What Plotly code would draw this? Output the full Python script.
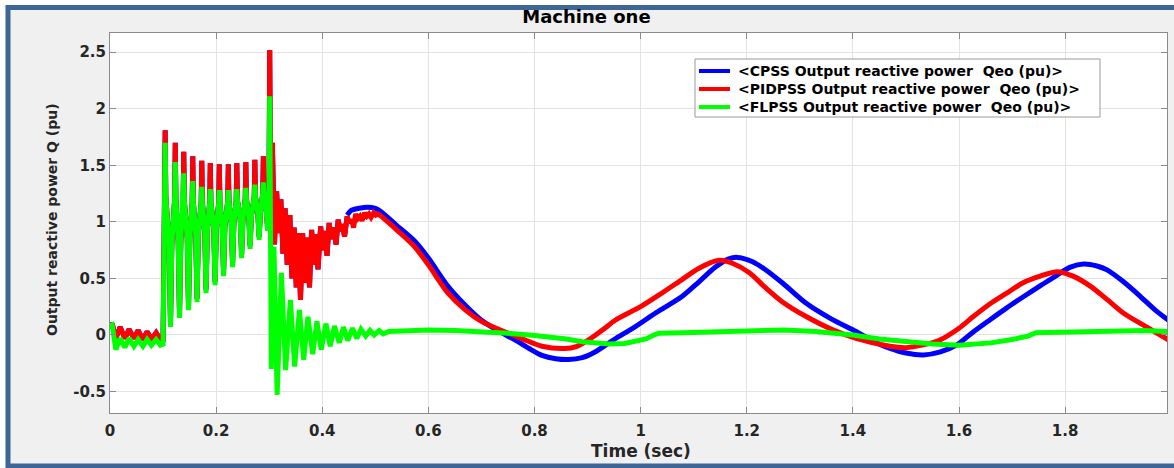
import plotly.graph_objects as go

# ---------------- data ----------------
# pre-fault ripple, 0 - 0.1 s
t_pre   = [0.000, 0.004, 0.011, 0.019, 0.028, 0.036, 0.045, 0.053, 0.062, 0.070, 0.078, 0.087, 0.095, 0.100]
pid_pre = [0.08, 0.10, -0.03, 0.07, -0.03, 0.05, -0.03, 0.04, -0.04, 0.03, -0.04, 0.02, -0.04, -0.04]
fl_pre  = [0.08, 0.09, -0.13, -0.03, -0.11, -0.03, -0.10, -0.04, -0.10, -0.04, -0.09, -0.04, -0.09, -0.08]

# fault period 0.1 - 0.3 s: 60 Hz ripple peaks / troughs and the dense band between them
t_peak    = [0.104, 0.123, 0.139, 0.156, 0.173, 0.189, 0.206, 0.223, 0.239, 0.256, 0.273, 0.289]
t_trough  = [0.114, 0.131, 0.148, 0.164, 0.181, 0.198, 0.214, 0.231, 0.248, 0.264, 0.281, 0.297]
pid_peak  = [1.81, 1.70, 1.62, 1.58, 1.54, 1.52, 1.51, 1.51, 1.52, 1.53, 1.55, 1.58]
pid_trough = [0.10, 0.18, 0.25, 0.32, 0.40, 0.47, 0.55, 0.63, 0.71, 0.79, 0.87, 0.95]
fl_peak   = [1.70, 1.53, 1.43, 1.36, 1.31, 1.29, 1.28, 1.28, 1.29, 1.30, 1.33, 1.35]
fl_trough = [0.07, 0.15, 0.22, 0.29, 0.37, 0.44, 0.52, 0.60, 0.68, 0.76, 0.84, 0.92]
band_hi   = [1.22, 1.20, 1.18, 1.17, 1.17, 1.17, 1.17, 1.18, 1.19, 1.20, 1.22, 1.25]
band_lo   = [0.80, 0.83, 0.86, 0.89, 0.92, 0.94, 0.96, 0.99, 1.02, 1.05, 1.08, 1.10]

# post-fault transient, 0.3 - 0.51 s
t_pid_post = [0.301, 0.303, 0.306, 0.310,
              0.314, 0.318, 0.322, 0.326, 0.330, 0.334, 0.339, 0.343,
              0.347, 0.351, 0.355, 0.359, 0.363, 0.367, 0.372, 0.376,
              0.380, 0.384, 0.388, 0.392, 0.397, 0.401, 0.405, 0.409,
              0.413, 0.417, 0.422, 0.426, 0.430, 0.434, 0.438, 0.442,
              0.447, 0.451, 0.455, 0.459, 0.463, 0.467, 0.471, 0.475,
              0.480, 0.484, 0.488, 0.492, 0.497, 0.501, 0.505]
pid_post   = [2.52, 0.95, 1.70, 0.80,
              1.27, 0.90, 1.20, 0.72, 1.12, 0.62, 1.06, 0.50,
              0.95, 0.42, 0.90, 0.31, 0.90, 0.46, 0.86, 0.42,
              0.93, 0.62, 0.89, 0.58, 0.96, 0.75, 0.92, 0.70,
              0.99, 0.85, 0.95, 0.80, 1.02, 0.92, 0.98, 0.87,
              1.05, 0.99, 1.02, 0.95, 1.07, 1.03, 1.05, 1.01,
              1.08, 1.05, 1.07, 1.04, 1.08, 1.06, 1.07]
t_fl_post = [0.301, 0.304, 0.309, 0.315, 0.323, 0.331, 0.340, 0.348, 0.357, 0.365, 0.373, 0.382,
             0.390, 0.398, 0.407, 0.415, 0.423, 0.432, 0.440, 0.448, 0.457, 0.465, 0.473, 0.482,
             0.490, 0.498, 0.507, 0.515, 0.525]
fl_post   = [2.11, -0.30, 0.78, -0.53, 0.55, -0.31, 0.31, -0.28, 0.22, -0.22, 0.16, -0.17,
             0.12, -0.13, 0.10, -0.10, 0.08, -0.07, 0.07, -0.05, 0.06, -0.03, 0.05, -0.01,
             0.04, 0.00, 0.04, 0.01, 0.03]

# slow electromechanical swing, 0.45 - 2 s
t_pid_slow = [0.511, 0.540, 0.574, 0.600, 0.637, 0.670, 0.700, 0.750, 0.780, 0.814, 0.857, 0.880,
              0.902, 0.930, 0.952, 1.000, 1.040, 1.078, 1.110, 1.148, 1.175, 1.205, 1.235, 1.268,
              1.312, 1.360, 1.406, 1.470, 1.500, 1.530, 1.564, 1.600, 1.627, 1.660, 1.690, 1.720,
              1.753, 1.785, 1.815, 1.848, 1.880, 1.911, 1.950, 1.995]
pid_slow   = [1.05, 0.93, 0.78, 0.62, 0.37, 0.22, 0.12, 0.016, -0.04, -0.10, -0.12, -0.10,
              -0.044, 0.05, 0.13, 0.25, 0.37, 0.49, 0.59, 0.66, 0.63, 0.55, 0.42, 0.29,
              0.163, 0.05, -0.03, -0.10, -0.112, -0.09, -0.044, 0.06, 0.163, 0.28, 0.37, 0.46,
              0.52, 0.56, 0.52, 0.43, 0.31, 0.19, 0.08, -0.044]

t_cpss_slow = [0.447, 0.454, 0.470, 0.485, 0.500, 0.511, 0.540, 0.574, 0.600, 0.637, 0.670, 0.700, 0.730,
               0.763, 0.790, 0.814, 0.840, 0.864, 0.890, 0.914, 0.950, 0.990, 1.030, 1.078, 1.110,
               1.141, 1.165, 1.182, 1.210, 1.236, 1.268, 1.312, 1.360, 1.406, 1.440, 1.470, 1.500,
               1.533, 1.565, 1.596, 1.625, 1.658, 1.690, 1.722, 1.755, 1.785, 1.810, 1.835, 1.860,
               1.879, 1.910, 1.942, 1.970, 1.998]
cpss_slow   = [1.06, 1.10, 1.12, 1.13, 1.12, 1.09, 0.97, 0.83, 0.68, 0.43, 0.26, 0.13, 0.04,
               -0.044, -0.12, -0.18, -0.21, -0.217, -0.20, -0.15, -0.04, 0.074, 0.20, 0.34, 0.47,
               0.60, 0.67, 0.686, 0.65, 0.575, 0.457, 0.28, 0.14, 0.03, -0.06, -0.119, -0.16,
               -0.177, -0.15, -0.088, 0.02, 0.133, 0.24, 0.34, 0.44, 0.53, 0.60, 0.628, 0.61,
               0.575, 0.47, 0.34, 0.22, 0.118]

t_fl_slow = [0.550, 0.600, 0.650, 0.700, 0.750, 0.800, 0.830, 0.860, 0.890, 0.920, 0.940, 0.970,
             0.990, 1.010, 1.025, 1.035, 1.080, 1.150, 1.200, 1.270, 1.330, 1.400, 1.450, 1.500,
             1.550, 1.600, 1.660, 1.700, 1.730, 1.745, 1.800, 1.850, 1.910, 1.950, 1.995]
fl_slow   = [0.035, 0.044, 0.04, 0.03, 0.015, -0.005, -0.015, -0.035, -0.06, -0.075, -0.08, -0.075,
             -0.06, -0.035, 0.0, 0.015, 0.02, 0.03, 0.04, 0.045, 0.03, 0.0, -0.035, -0.06,
             -0.08, -0.09, -0.07, -0.04, -0.01, 0.02, 0.025, 0.03, 0.04, 0.04, 0.03]

x_ticks = [0, 0.2, 0.4, 0.6, 0.8, 1.0, 1.2, 1.4, 1.6, 1.8]
x_tick_text = ["0", "0.2", "0.4", "0.6", "0.8", "1", "1.2", "1.4", "1.6", "1.8"]
y_ticks = [-0.5, 0, 0.5, 1, 1.5, 2, 2.5]
y_tick_text = ["-0.5", "0", "0.5", "1", "1.5", "2", "2.5"]

names = ["&lt;CPSS Output reactive power&nbsp; Qeo (pu)&gt;",
         "&lt;PIDPSS Output reactive power&nbsp; Qeo (pu)&gt;",
         "&lt;FLPSS Output reactive power&nbsp; Qeo (pu)&gt;"]
colors = ["#0000ff", "#ff0000", "#00ff00"]


# ---------------- assemble the ripple paths ----------------
def comb(pk_t, pk_v, tr_t, tr_v, hi, lo, d=0.0012, e=0.0025):
    xs, ys = [], []
    for i in range(len(pk_t)):
        if i > 0:
            xs.append(pk_t[i] - d)
            ys.append(hi[i])
        xs += [pk_t[i], pk_t[i] + d, tr_t[i] - e, tr_t[i], tr_t[i] + e]
        ys += [pk_v[i], hi[i], lo[i], tr_v[i], lo[i]]
    return xs, ys


cx_pid, cy_pid = comb(t_peak, pid_peak, t_trough, pid_trough, band_hi, band_lo)
cx_fl, cy_fl = comb(t_peak, fl_peak, t_trough, fl_trough, band_hi, band_lo)

pid_fast_x = t_pre + cx_pid + t_pid_post + [t_pid_slow[0]]
pid_fast_y = pid_pre + cy_pid + pid_post + [pid_slow[0]]
fl_x = t_pre + cx_fl + t_fl_post + t_fl_slow
fl_y = fl_pre + cy_fl + fl_post + fl_slow
# CPSS trace lies under the PIDPSS trace until it separates at ~0.45 s
cp_fast_x = [x for x in pid_fast_x if x < 0.45]
cp_fast_y = [y for x, y in zip(pid_fast_x, pid_fast_y) if x < 0.45]

# ---------------- figure ----------------
W, H = 1174, 468
L, R, T, B = 110, 7, 33, 55
PW, PH = W - L - R, H - T - B


def px(x):
    return (x - L) / PW


def py(y):
    return (H - B - y) / PH


FONT = "DejaVu Sans"
LW = 5
fig = go.Figure()
fig.add_trace(go.Scatter(x=cp_fast_x, y=cp_fast_y, mode="lines", name=names[0], showlegend=False,
                         line=dict(color=colors[0], width=LW)))
fig.add_trace(go.Scatter(x=t_cpss_slow, y=cpss_slow, mode="lines", name=names[0], showlegend=False,
                         line=dict(color=colors[0], width=LW, shape="spline", smoothing=0.8)))
fig.add_trace(go.Scatter(x=pid_fast_x, y=pid_fast_y, mode="lines", name=names[1], showlegend=False,
                         line=dict(color=colors[1], width=LW)))
fig.add_trace(go.Scatter(x=t_pid_slow, y=pid_slow, mode="lines", name=names[1], showlegend=False,
                         line=dict(color=colors[1], width=LW, shape="spline", smoothing=0.8)))
fig.add_trace(go.Scatter(x=fl_x, y=fl_y, mode="lines", name=names[2], showlegend=False,
                         line=dict(color=colors[2], width=LW)))

axis_common = dict(showgrid=True, gridcolor="#e3e3e3", gridwidth=1, zeroline=False,
                   showline=True, linecolor="#8a8a8a", linewidth=1, mirror="ticks",
                   ticks="inside", ticklen=6, tickcolor="#8a8a8a", automargin=False,
                   tickfont=dict(family=FONT, size=15, color="#262626"))

# legend box drawn in pixel positions
LEG_X0, LEG_X1, LEG_Y0, LEG_Y1 = 695, 1100, 59, 117
leg_rows = [71, 89, 107]
shapes = [
    dict(type="rect", xref="paper", yref="paper", layer="above",
         x0=px(-5), x1=px(5.5), y0=py(480), y1=py(-5), line=dict(width=0), fillcolor="#ffffff"),
    dict(type="rect", xref="paper", yref="paper", layer="above",
         x0=px(-5), x1=px(1190), y0=py(5), y1=py(-5), line=dict(width=0), fillcolor="#ffffff"),
    dict(type="rect", xref="paper", yref="paper", layer="above",
         x0=px(8), x1=px(1190), y0=py(466), y1=py(7.5),
         line=dict(color="#3d6598", width=5), fillcolor="rgba(0,0,0,0)"),
    dict(type="rect", xref="paper", yref="paper", layer="above",
         x0=px(LEG_X0), x1=px(LEG_X1), y0=py(LEG_Y1), y1=py(LEG_Y0),
         line=dict(color="#9a9a9a", width=1), fillcolor="#ffffff"),
]
annotations = [
    dict(text="<b>Time (sec)</b>", x=px(641), y=py(451), xref="paper", yref="paper",
         showarrow=False, xanchor="center", yanchor="middle",
         font=dict(family=FONT, size=17, color="#262626")),
    dict(text="<b>Output reactive power Q (pu)</b>", x=px(52), y=py(220), xref="paper", yref="paper",
         showarrow=False, xanchor="center", yanchor="middle", textangle=-90,
         font=dict(family=FONT, size=14, color="#262626")),
]
for row, name, col in zip(leg_rows, names, colors):
    shapes.append(dict(type="line", xref="paper", yref="paper", layer="above",
                       x0=px(699), x1=px(730), y0=py(row), y1=py(row),
                       line=dict(color=col, width=4)))
    annotations.append(dict(text="<b>%s</b>" % name, x=px(736), y=py(row), xref="paper", yref="paper",
                            showarrow=False, xanchor="left", yanchor="middle",
                            font=dict(family=FONT, size=14, color="#000000")))

fig.update_layout(
    width=W, height=H, template="none",
    margin=dict(l=L, r=R, t=T, b=B, pad=0),
    paper_bgcolor="#f0f0f0", plot_bgcolor="#ffffff",
    showlegend=False,
    title=dict(text="<b>Machine one</b>", x=px(638), xanchor="center", y=1 - 17 / H, yanchor="middle",
               font=dict(family=FONT, size=18, color="#000000")),
    xaxis=dict(range=[0, 1.992], tickvals=x_ticks, ticktext=["<b>%s</b>" % s for s in x_tick_text],
               ticklabelstandoff=4, **axis_common),
    yaxis=dict(range=[-0.69, 2.67], tickvals=y_ticks, ticktext=["<b>%s</b>" % s for s in y_tick_text],
               **axis_common),
    annotations=annotations,
    shapes=shapes,
)

fig.write_html("out.html")
